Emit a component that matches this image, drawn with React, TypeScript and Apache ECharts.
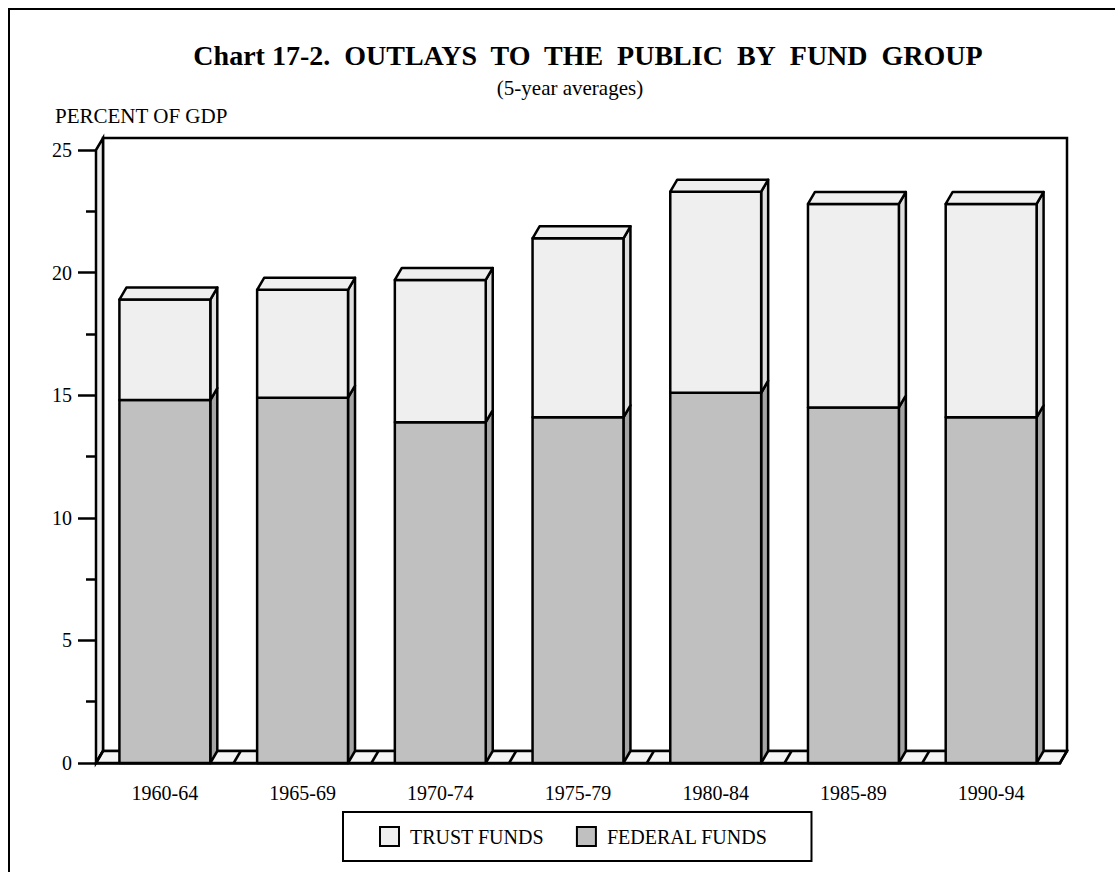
import React, { useEffect, useRef } from "react";
import * as echarts from "echarts";

const categories = ["1960-64", "1965-69", "1970-74", "1975-79", "1980-84", "1985-89", "1990-94"];
const federalFunds = [14.8, 14.9, 13.9, 14.1, 15.1, 14.5, 14.1];
const trustFunds = [4.1, 4.4, 5.8, 7.3, 8.2, 8.3, 8.7];
const yTicks = [0, 5, 10, 15, 20, 25];

const FONT = "Liberation Serif";
const GRID_L = 96;
const GRID_R = 1060;
const GRID_T = 150;
const GRID_B = 763;
const DX = 7;
const DY = -12;
const BAR_RATIO = 0.66;
const LW = 2.5;

function makeRender(front: string, side: string, drawTop: boolean) {
  return (params: any, api: any) => {
    const idx = api.value(0);
    const lo = api.value(1);
    const hi = api.value(2);
    const pLo = api.coord([idx, lo]);
    const pHi = api.coord([idx, hi]);
    const w = api.size([1, 0])[0] * BAR_RATIO;
    const x0 = pLo[0] - w / 2;
    const x1 = pLo[0] + w / 2;
    const yB = pLo[1];
    const yT = pHi[1];
    const stroke = { stroke: "#000", lineWidth: LW, lineJoin: "round" };
    const children: any[] = [
      {
        type: "polygon",
        shape: { points: [[x1, yB], [x1 + DX, yB + DY], [x1 + DX, yT + DY], [x1, yT]] },
        style: { fill: side, ...stroke },
      },
      {
        type: "rect",
        shape: { x: x0, y: yT, width: w, height: yB - yT },
        style: { fill: front, ...stroke },
      },
    ];
    if (drawTop) {
      children.push({
        type: "polygon",
        shape: { points: [[x0, yT], [x0 + DX, yT + DY], [x1 + DX, yT + DY], [x1, yT]] },
        style: { fill: front, ...stroke },
      });
    }
    return { type: "group", children };
  };
}

export default function App() {
  const ref = useRef<HTMLDivElement>(null);
  useEffect(() => {
    if (!ref.current) return;
    const chart = echarts.init(ref.current, undefined, { renderer: "svg" });
    const n = categories.length;
    const band = (GRID_R - GRID_L) / n;
    const fedData = federalFunds.map((v, i) => [i, 0, v]);
    const trustData = trustFunds.map((v, i) => [i, federalFunds[i], federalFunds[i] + v]);

    const floorLines = Array.from({ length: n + 1 }, (_, k) => ({
      type: "line",
      z: 2,
      shape: { x1: GRID_L + k * band, y1: GRID_B, x2: GRID_L + k * band + DX, y2: GRID_B + DY },
      style: { stroke: "#000", lineWidth: LW },
    }));

    chart.setOption({
      animation: false,
      backgroundColor: "#fff",
      textStyle: { fontFamily: FONT, color: "#000" },
      grid: { left: GRID_L, right: 1115 - GRID_R, top: GRID_T, bottom: 872 - GRID_B, containLabel: false },
      legend: {
        data: ["TRUST FUNDS", "FEDERAL FUNDS"],
        left: 343,
        top: 812,
        orient: "horizontal",
        padding: [14, 44, 14, 36],
        borderColor: "#000",
        borderWidth: 2,
        itemGap: 32,
        itemWidth: 19,
        itemHeight: 19,
        icon: "rect",
        itemStyle: { borderColor: "#000", borderWidth: 2 },
        textStyle: { fontFamily: FONT, fontSize: 20, color: "#000", padding: [0, 0, 0, 6] },
      },
      xAxis: {
        type: "category",
        data: categories,
        axisLine: { show: true, lineStyle: { color: "#000", width: LW } },
        axisTick: { show: false },
        axisLabel: { fontFamily: FONT, fontSize: 20, color: "#000", margin: 20 },
        splitLine: { show: false },
      },
      yAxis: {
        type: "value",
        min: yTicks[0],
        max: yTicks[yTicks.length - 1],
        interval: 5,
        axisLine: { show: true, lineStyle: { color: "#000", width: LW } },
        axisTick: { show: true, length: 18, lineStyle: { color: "#000", width: LW } },
        minorTick: { show: true, splitNumber: 2, length: 10, lineStyle: { color: "#000", width: LW } },
        axisLabel: { fontFamily: FONT, fontSize: 20, color: "#000", margin: 24 },
        splitLine: { show: false },
      },
      graphic: [
        {
          type: "rect",
          z: 0,
          shape: { x: 9, y: 9, width: 1300, height: 1000 },
          style: { fill: "none", stroke: "#000", lineWidth: 2 },
        },
        {
          type: "text",
          z: 5,
          x: 588,
          y: 55,
          style: {
            text: "Chart 17-2.\u00a0 OUTLAYS\u00a0 TO\u00a0 THE\u00a0 PUBLIC\u00a0 BY\u00a0 FUND\u00a0 GROUP",
            fontFamily: FONT,
            fontSize: 28,
            fontWeight: "bold",
            fill: "#000",
            align: "center",
            verticalAlign: "middle",
          },
        },
        {
          type: "text",
          z: 5,
          x: 570,
          y: 88,
          style: {
            text: "(5-year averages)",
            fontFamily: FONT,
            fontSize: 21,
            fill: "#000",
            align: "center",
            verticalAlign: "middle",
          },
        },
        {
          type: "text",
          z: 5,
          x: 55,
          y: 116,
          style: {
            text: "PERCENT OF GDP",
            fontFamily: FONT,
            fontSize: 21,
            fill: "#000",
            align: "left",
            verticalAlign: "middle",
          },
        },
        {
          type: "rect",
          z: 1,
          shape: { x: GRID_L + DX, y: GRID_T + DY, width: GRID_R - GRID_L, height: GRID_B - GRID_T },
          style: { fill: "#fff", stroke: "#000", lineWidth: LW },
        },
        {
          type: "polygon",
          z: 1,
          shape: {
            points: [
              [GRID_L, GRID_T],
              [GRID_L + DX, GRID_T + DY],
              [GRID_L + DX, GRID_B + DY],
              [GRID_L, GRID_B],
            ],
          },
          style: { fill: "#ececec", stroke: "#000", lineWidth: LW },
        },
        {
          type: "polygon",
          z: 1,
          shape: {
            points: [
              [GRID_L, GRID_B],
              [GRID_L + DX, GRID_B + DY],
              [GRID_R + DX, GRID_B + DY],
              [GRID_R, GRID_B],
            ],
          },
          style: { fill: "#f4f4f4", stroke: "#000", lineWidth: LW },
        },
        ...floorLines,
      ],
      series: [
        {
          name: "FEDERAL FUNDS",
          type: "custom",
          z: 10,
          itemStyle: { color: "#c0c0c0" },
          encode: { x: 0, y: [1, 2] },
          renderItem: makeRender("#c0c0c0", "#a4a4a4", false),
          data: fedData,
        },
        {
          name: "TRUST FUNDS",
          type: "custom",
          z: 11,
          itemStyle: { color: "#efefef" },
          encode: { x: 0, y: [1, 2] },
          renderItem: makeRender("#efefef", "#dedede", true),
          data: trustData,
        },
      ],
    });
    return () => chart.dispose();
  }, []);
  return (
    <div
      ref={ref}
      style={{ position: "fixed", left: 0, top: 0, width: 1115, height: 872, background: "#fff" }}
    />
  );
}
